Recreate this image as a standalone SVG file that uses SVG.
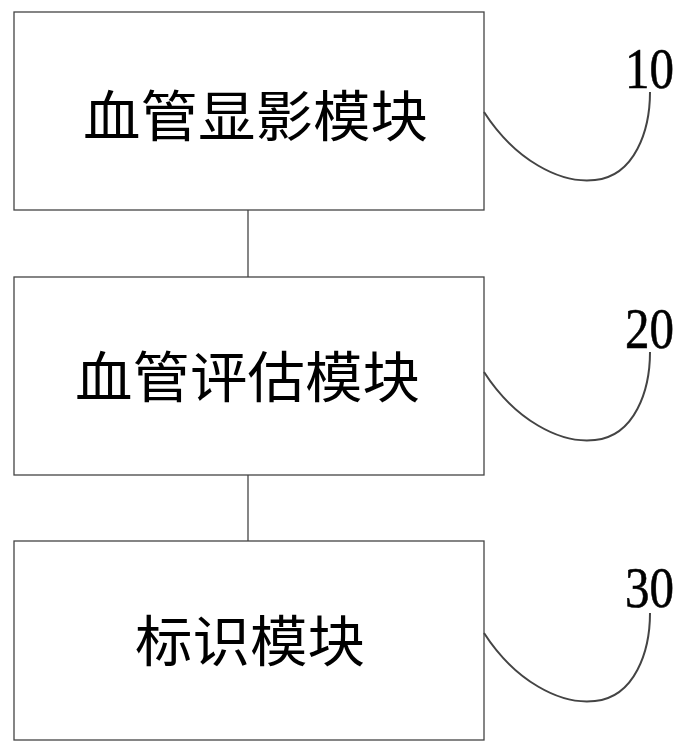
<svg xmlns="http://www.w3.org/2000/svg" width="685" height="754" viewBox="0 0 685 754">
<style>
.box{fill:#fff;stroke:#444;stroke-width:1.3}
.lbl{font-family:"Noto Sans CJK SC","Noto Sans CJK JP",sans-serif;font-size:55px;fill:#000;dominant-baseline:central}
.num{font-family:"Liberation Serif",serif;font-size:58px;fill:#000;stroke:#000;stroke-width:0.6}
.lead{fill:none;stroke:#444;stroke-width:2}
.conn{stroke:#444;stroke-width:1.3}
</style>
<rect width="685" height="754" fill="#fff"/>
<g id="connectors">
<line class="conn" x1="248" y1="210" x2="248" y2="277"/>
<line class="conn" x1="248" y1="475" x2="248" y2="541"/>
</g>
<g id="node10">
<rect class="box" x="14" y="12" width="470" height="198"/>
<text class="lbl" x="83" y="112" textLength="345" lengthAdjust="spacingAndGlyphs">血管显影模块</text>
<path class="lead" d="M484,112 C515,160 560,184 595,180 C635,176 650,130 650,92"/>
<text class="num" x="625" y="88" textLength="49" lengthAdjust="spacingAndGlyphs">10</text>
</g>
<g id="node20">
<rect class="box" x="14" y="277" width="470" height="198"/>
<text class="lbl" x="75" y="373" textLength="345" lengthAdjust="spacingAndGlyphs">血管评估模块</text>
<path class="lead" d="M484,372 C515,420 560,444 595,440 C635,436 650,390 650,352"/>
<text class="num" x="625" y="348" textLength="49" lengthAdjust="spacingAndGlyphs">20</text>
</g>
<g id="node30">
<rect class="box" x="14" y="541" width="470" height="199"/>
<text class="lbl" x="135" y="637" textLength="230" lengthAdjust="spacingAndGlyphs">标识模块</text>
<path class="lead" d="M484,633 C515,681 560,705 595,701 C635,697 650,651 650,613"/>
<text class="num" x="625" y="607" textLength="49" lengthAdjust="spacingAndGlyphs">30</text>
</g>
</svg>
